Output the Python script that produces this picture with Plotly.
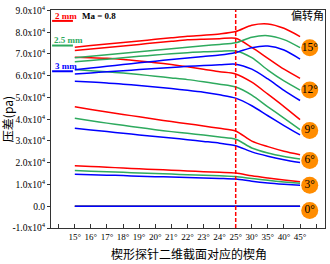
import plotly.graph_objects as go

# x categories (positions 1..15 on the axis; 0 and 16 are unlabeled ticks)
x_labels = ["15°", "16°", "17°", "18°", "19°", "20°", "21°", "22°", "23°", "24°", "25°", "30°", "35°", "40°", "45°"]
x_pos = list(range(1, 16))

# pressure difference values (x 1e4 Pa), keyed by deflection angle and thickness
red_15 = [7.31, 7.39, 7.46, 7.53, 7.60, 7.67, 7.74, 7.81, 7.86, 7.92, 8.03, 8.32, 8.38, 8.18, 7.80]
green_15 = [6.82, 6.89, 6.96, 7.03, 7.10, 7.17, 7.24, 7.31, 7.38, 7.44, 7.51, 7.77, 7.84, 7.66, 7.29]
blue_15 = [6.27, 6.35, 6.43, 6.51, 6.59, 6.67, 6.74, 6.81, 6.88, 6.95, 7.07, 7.29, 7.36, 7.18, 6.76]

red_12 = [7.16, 7.23, 7.30, 7.37, 7.44, 7.51, 7.58, 7.65, 7.68, 7.70, 7.72, 7.30, 6.80, 6.30, 5.88]
green_12 = [6.64, 6.70, 6.76, 6.83, 6.89, 6.95, 7.01, 7.06, 7.10, 7.12, 7.14, 6.83, 6.26, 5.76, 5.34]
blue_12 = [6.08, 6.13, 6.18, 6.23, 6.28, 6.33, 6.38, 6.43, 6.47, 6.50, 6.53, 6.30, 5.85, 5.33, 4.86]

red_9 = [6.85, 6.83, 6.80, 6.75, 6.68, 6.60, 6.51, 6.41, 6.30, 6.18, 6.08, 5.70, 5.15, 4.58, 3.98]
green_9 = [6.28, 6.23, 6.18, 6.12, 6.05, 5.98, 5.90, 5.82, 5.72, 5.61, 5.48, 5.11, 4.57, 4.05, 3.52]
blue_9 = [5.74, 5.71, 5.67, 5.61, 5.55, 5.48, 5.41, 5.33, 5.24, 5.12, 4.97, 4.62, 4.16, 3.71, 3.28]

red_6 = [4.57, 4.45, 4.33, 4.22, 4.11, 4.00, 3.89, 3.79, 3.69, 3.58, 3.46, 2.99, 2.74, 2.53, 2.37]
green_6 = [4.04, 3.93, 3.82, 3.72, 3.62, 3.52, 3.43, 3.35, 3.27, 3.18, 3.08, 2.68, 2.45, 2.29, 2.17]
blue_6 = [3.59, 3.51, 3.43, 3.36, 3.28, 3.21, 3.14, 3.06, 2.98, 2.90, 2.78, 2.50, 2.30, 2.14, 2.01]

red_3 = [1.86, 1.83, 1.79, 1.76, 1.72, 1.69, 1.66, 1.62, 1.59, 1.56, 1.53, 1.40, 1.30, 1.21, 1.13]
green_3 = [1.64, 1.61, 1.59, 1.56, 1.53, 1.51, 1.48, 1.45, 1.43, 1.40, 1.37, 1.27, 1.19, 1.12, 1.06]
blue_3 = [1.47, 1.45, 1.43, 1.41, 1.38, 1.36, 1.34, 1.32, 1.30, 1.28, 1.25, 1.15, 1.07, 1.01, 0.96]

red_0 = [0.0] * 15
green_0 = [0.0] * 15
blue_0 = [0.0] * 15

# deflection angle badges
badge_labels = ["15°", "12°", "9°", "6°", "3°", "0°"]
badge_y = [7.28, 5.34, 3.48, 2.10, 0.97, -0.20]

y_tick_vals = [-1, 0, 1, 2, 3, 4, 5, 6, 7, 8, 9]
y_tick_text = ["-1.0x10<sup>4</sup>", "0.0"] + [f"{v}.0x10<sup>4</sup>" for v in range(1, 10)]

RED = "#FF0000"
GREEN = "#2EAA5E"
BLUE = "#0000FF"
SERIF = "Liberation Serif, Times New Roman, serif"
CJK = "Noto Sans CJK SC"

fig = go.Figure()

groups = [
    (RED, [red_15, red_12, red_9, red_6, red_3, red_0]),
    (GREEN, [green_15, green_12, green_9, green_6, green_3, green_0]),
    (BLUE, [blue_15, blue_12, blue_9, blue_6, blue_3, blue_0]),
]
for color, series in groups:
    for s in series:
        fig.add_trace(go.Scatter(
            x=x_pos, y=s, mode="lines",
            line=dict(color=color, width=1.5, shape="spline", smoothing=0.8),
            showlegend=False, hoverinfo="skip",
        ))

fig.add_trace(go.Scatter(
    x=[15.6] * len(badge_labels), y=badge_y, mode="markers+text",
    marker=dict(size=17, color="#FF8C00", line=dict(width=0)),
    text=badge_labels, textposition="middle center",
    textfont=dict(family=SERIF, size=11.5, color="black"),
    showlegend=False, hoverinfo="skip", cliponaxis=False,
))

# red dashed vertical reference line at 25°
fig.add_shape(type="line", xref="x", yref="paper", x0=11, x1=11, y0=0, y1=1,
              line=dict(color=RED, width=1.5, dash="4px,2px"))

# thickness key lines
for yv, c in [(0.950, RED), (0.837, GREEN), (0.719, BLUE)]:
    fig.add_shape(type="line", xref="paper", yref="paper", x0=0.004, x1=0.08, y0=yv, y1=yv,
                  line=dict(color=c, width=2))

annotations = [
    dict(text="<b>2 mm</b>", x=0.007, y=0.973, font=dict(color=RED, size=9, family=SERIF), xanchor="left"),
    dict(text="<b>2.5 mm</b>", x=0.003, y=0.862, font=dict(color=GREEN, size=9, family=SERIF), xanchor="left"),
    dict(text="<b>3 mm</b>", x=0.007, y=0.742, font=dict(color=BLUE, size=9, family=SERIF), xanchor="left"),
    dict(text="<b>Ma = 0.8</b>", x=0.105, y=0.973, font=dict(color="black", size=9, family=SERIF), xanchor="left"),
    dict(text="偏转角", x=0.935, y=0.978, font=dict(color="black", size=11, family=CJK), xanchor="center"),
    dict(text="楔形探针二维截面对应的楔角", x=0.505, y=-0.118, font=dict(color="black", size=12, family=CJK),
         xanchor="center", yanchor="middle"),
    dict(text="压差(pa)", x=-0.16, y=0.5, textangle=-90, font=dict(color="black", size=12, family=CJK),
         xanchor="center", yanchor="middle"),
]
for a in annotations:
    a.update(xref="paper", yref="paper", showarrow=False)
    a.setdefault("yanchor", "middle")
fig.update_layout(annotations=annotations)

fig.update_layout(
    width=330, height=264,
    margin=dict(l=51, r=4, t=7, b=36),
    plot_bgcolor="white", paper_bgcolor="white",
    font=dict(family=SERIF, size=11, color="black"),
    xaxis=dict(
        range=[-0.48, 16.55],
        tickmode="array", tickvals=x_pos, ticktext=x_labels,
        ticks="inside", ticklen=4, tickwidth=1, tickcolor="#333",
        minor=dict(tickmode="array", tickvals=[0, 16], ticks="inside", ticklen=4,
                   tickwidth=1, tickcolor="#333", showgrid=False),
        showline=True, linecolor="#333", linewidth=1.2, mirror=True,
        showgrid=False, zeroline=False,
        tickfont=dict(family=SERIF, size=9), tickangle=0,
    ),
    yaxis=dict(
        range=[-1.0, 9.02],
        tickmode="array", tickvals=y_tick_vals, ticktext=y_tick_text,
        ticks="outside", ticklen=3, tickwidth=1, tickcolor="#333",
        showline=True, linecolor="#333", linewidth=1.2, mirror=True,
        showgrid=False, zeroline=False, ticklabeloverflow="allow",
        tickfont=dict(family=SERIF, size=9.5),
    ),
)

fig.write_html("out.html", config={"displayModeBar": False},
               post_script="document.body.style.margin='0';document.body.style.overflow='hidden';")
